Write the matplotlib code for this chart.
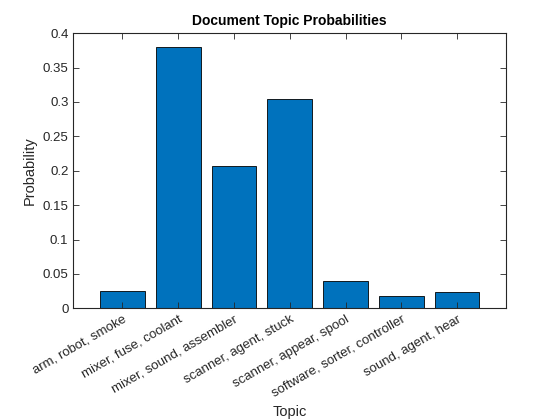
import matplotlib
matplotlib.use('Agg')
import matplotlib.pyplot as plt

topics = ['arm, robot, smoke', 'mixer, fuse, coolant', 'mixer, sound, assembler',
          'scanner, agent, stuck', 'scanner, appear, spool', 'software, sorter, controller',
          'sound, agent, hear']
probs = [0.0255, 0.380, 0.2073, 0.3042, 0.0395, 0.0172, 0.0243]
yticks = [0, 0.05, 0.1, 0.15, 0.2, 0.25, 0.3, 0.35, 0.4]
ytick_labels = ['0', '0.05', '0.1', '0.15', '0.2', '0.25', '0.3', '0.35', '0.4']

plt.rcParams['font.family'] = ['Liberation Sans', 'DejaVu Sans']
grey = '#262626'

fig = plt.figure(figsize=(5.6, 4.2), dpi=100)
ax = fig.add_axes([0.131, 0.266, 0.773, 0.655])

x = range(1, len(topics) + 1)
ax.bar(x, probs, width=0.8, color='#0072BD', edgecolor='black', linewidth=0.6)

ax.set_xlim(0.12, 7.88)
ax.set_ylim(0, 0.4)
ax.set_xticks(list(x))
ax.set_xticklabels(topics, rotation=30, ha='right', rotation_mode='anchor', fontsize=9.5, color=grey)
ax.set_yticks(yticks)
ax.set_yticklabels(ytick_labels, fontsize=9.5, color=grey)
ax.tick_params(direction='in', top=True, right=True, length=4, width=0.6, colors=grey,
               labelcolor=grey)
for s in ax.spines.values():
    s.set_color(grey)
    s.set_linewidth(0.8)

ax.set_title('Document Topic Probabilities', fontsize=10, fontweight='bold', pad=6)
ax.set_xlabel('Topic', fontsize=10.5, color=grey)
ax.set_ylabel('Probability', fontsize=10.5, color=grey)

fig.savefig('out.png', dpi=100)
